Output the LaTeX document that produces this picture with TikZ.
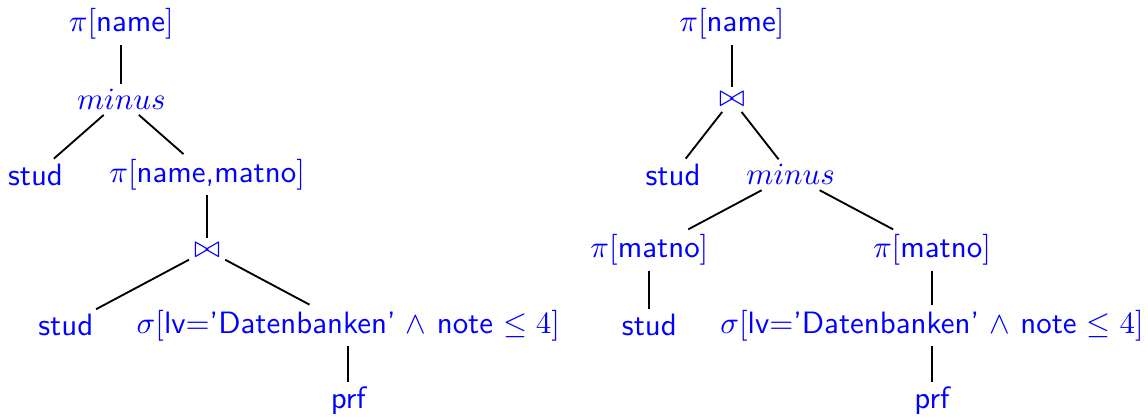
\documentclass[tikz,border=0pt]{standalone}
\usetikzlibrary{positioning}
\tikzset{node distance=24.37pt, % Distance between two levels of a plan.
        every node/.style={ % Sets the look of each operator and relation
            text=blue,
            inner sep=1.5pt,
            font=\sffamily},
        every edge/.style={ % Sets the look of each tree edge
            draw,
            semithick}
        }

\begin{document}
\begin{tikzpicture}
    \useasboundingbox (0,0) rectangle (371.6pt,-135.3pt);

    % first plan
    \node (pa) at (39.26pt,-7.84pt) {$\pi[$name$]$};
    \node (ma) [below of=pa] {$minus$};
    \node (sa) [below of=ma, xshift=-27.77pt] {stud};
    \node (pb) [below of=ma, xshift=27.77pt] {$\pi[$name,matno$]$};
    \node (ja) [below of=pb] {$\bowtie$};
    \node (sb) [below of=ja, xshift=-45.73pt] {stud};
    \node (ga) [below of=ja, xshift=45.73pt] {$\sigma[$lv$=$'Datenbanken' $\wedge$ note $\leq 4]$};
    \node (ra) [below of=ga] {prf};

    % second plan
    \node (pc) at (236.9pt,-7.84pt) {$\pi[$name$]$};
    \node (jb) [below of=pc] {$\bowtie$};
    \node (sc) [below of=jb, xshift=-19.03pt] {stud};
    \node (mb) [below of=jb, xshift=19.03pt] {$minus$};
    \node (pd) [below of=mb, xshift=-45.73pt] {$\pi[$matno$]$};
    \node (pe) [below of=mb, xshift=45.73pt] {$\pi[$matno$]$};
    \node (sd) [below of=pd] {stud};
    \node (gb) [below of=pe] {$\sigma[$lv$=$'Datenbanken' $\wedge$ note $\leq 4]$};
    \node (rb) [below of=gb] {prf};

    \draw
        (pa)
            edge (ma)
        (ma)
            edge (sa)
            edge (pb)
        (pb)
            edge (ja)
        (ja)
            edge (sb)
            edge (ga)
        (ga)
            edge (ra);

    \draw
        (pc)
            edge (jb)
        (jb)
            edge (sc)
            edge (mb)
        (mb)
            edge (pd)
            edge (pe)
        (pd)
            edge (sd)
        (pe)
            edge (gb)
        (gb)
            edge (rb);
\end{tikzpicture}
\end{document}
